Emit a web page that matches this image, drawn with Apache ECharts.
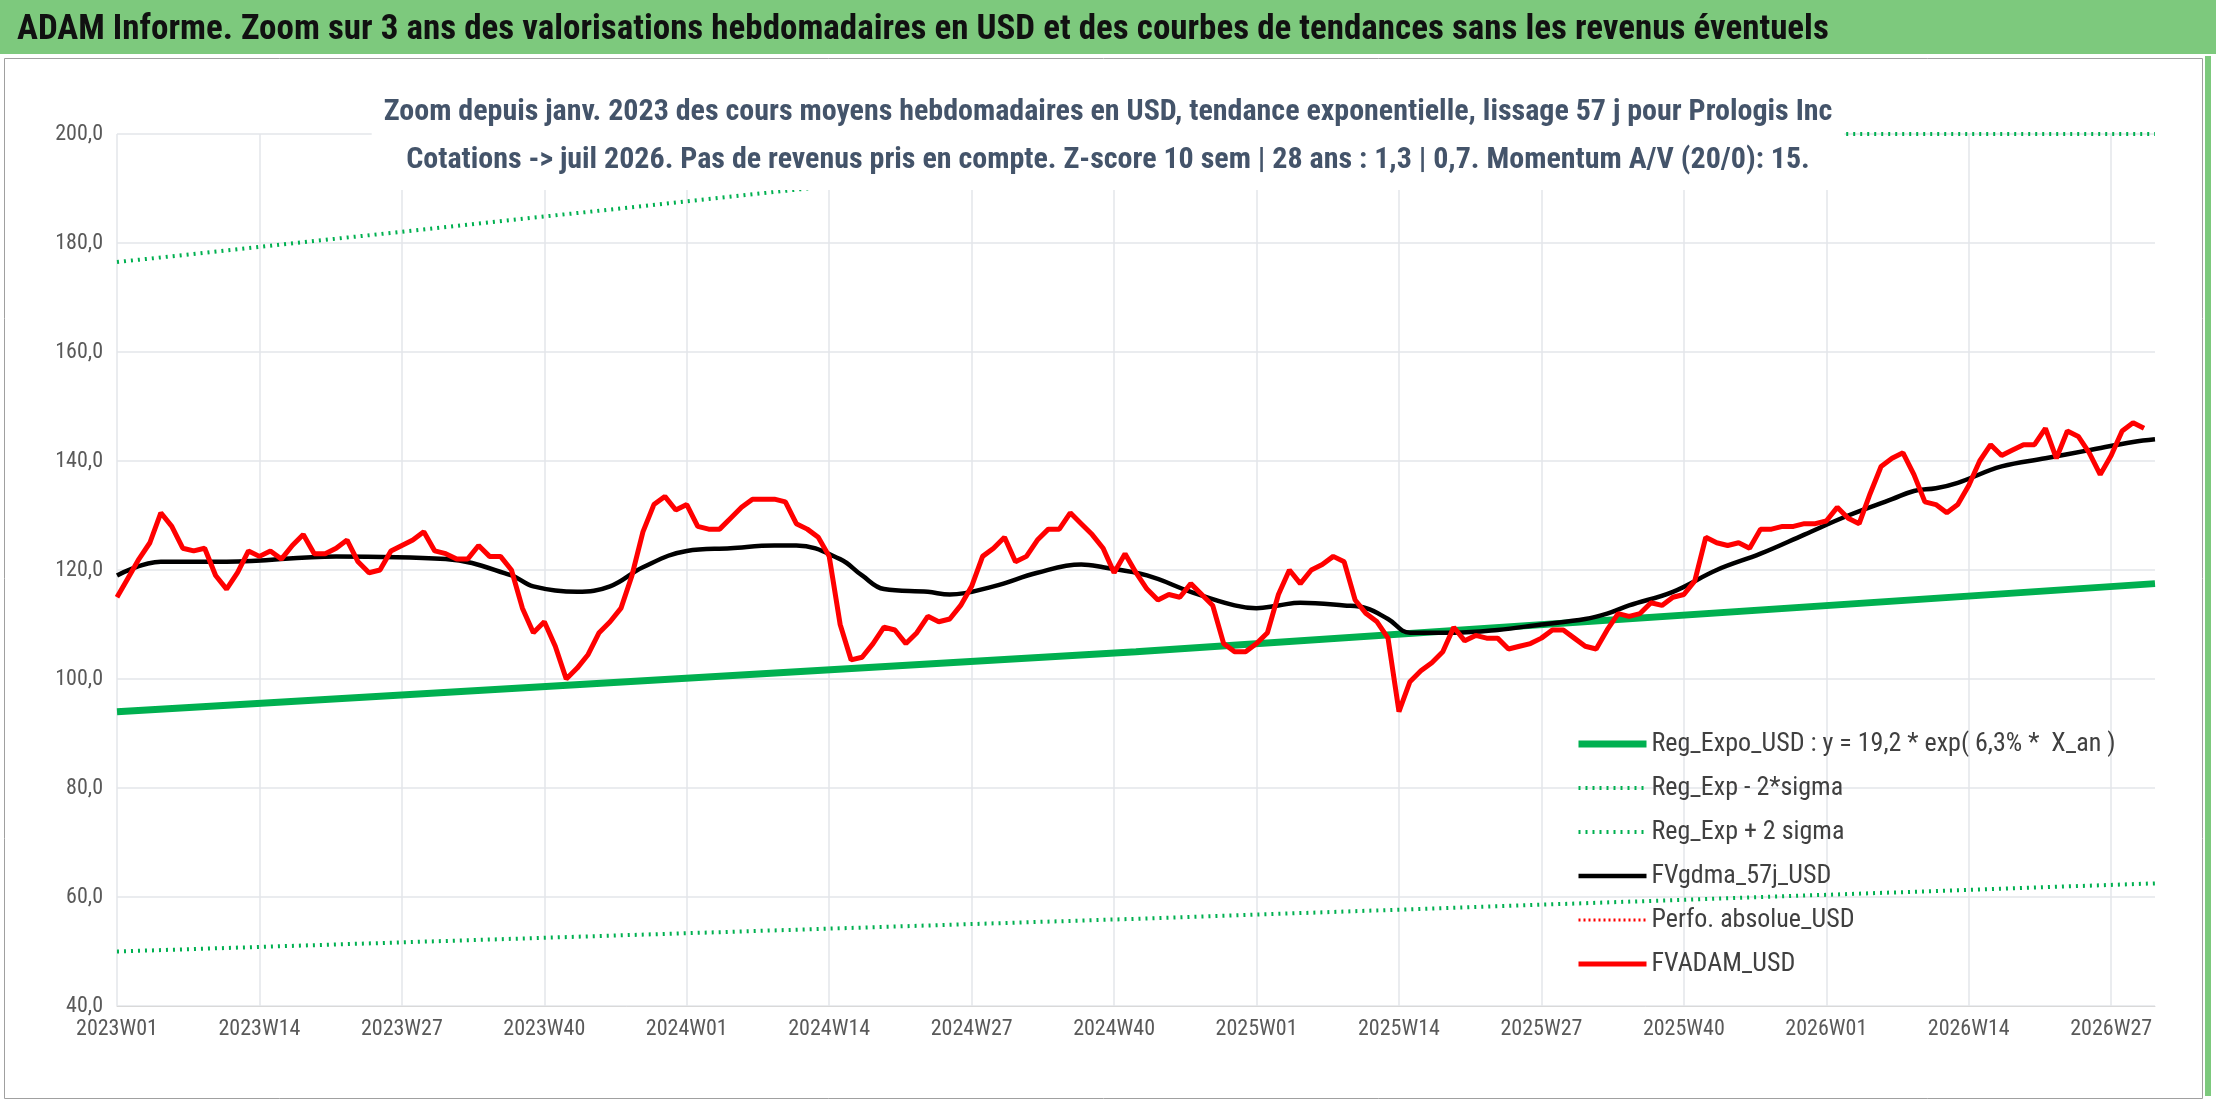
<!DOCTYPE html>
<html><head><meta charset="utf-8">
<script src="https://cdn.jsdelivr.net/npm/echarts@6/dist/echarts.min.js"></script>
<style>html,body{margin:0;padding:0;background:#fff}#c{width:2216px;height:1102px}</style>
</head><body><div id="c"></div>
<script>
const years = [2023, 2024, 2025, 2026];
const weeksPerYear = [52, 52, 52, 31];
const categories = [];
years.forEach((y, k) => { for (let w = 1; w <= weeksPerYear[k]; w++) categories.push(y + 'W' + String(w).padStart(2, '0')); });

const fvadam = [115,118.5,122,125,130.5,128,124,123.5,124,119,116.5,119.5,123.5,122.5,123.5,122,124.5,126.5,123,123,124,125.5,121.5,119.5,120,123.5,124.5,125.5,127,123.5,123,122,122,124.5,122.5,122.5,120,113,108.5,110.5,106,100,102,104.5,108.5,110.5,113,119,127,132,133.5,131,132,128,127.5,127.5,129.5,131.5,133,133,133,132.5,128.5,127.5,126,122.5,110,103.5,104,106.5,109.5,109,106.5,108.5,111.5,110.5,111,113.5,117,122.5,124,126,121.5,122.5,125.5,127.5,127.5,130.5,128.5,126.5,124,119.5,123,119.5,116.5,114.5,115.5,115,117.5,115.5,113.5,106.5,105,105,106.5,108.5,115.5,120,117.5,120,121,122.5,121.5,114.5,112,110.5,107.5,94,99.5,101.5,103,105,109.5,107,108,107.5,107.5,105.5,106,106.5,107.5,109,109,107.5,106,105.5,109,112,111.5,112,114,113.5,115,115.5,118,126,125,124.5,125,124,127.5,127.5,128,128,128.5,128.5,129,131.5,129.5,128.5,134,139,140.5,141.5,137.5,132.5,132,130.5,132,135.5,140,143,141,142,143,143,146,140.5,145.5,144.5,141.5,137.5,141,145.5,147,146];
const fvgdma = [[0,119],[4,121.5],[10,121.5],[20,122.5],[30,122],[36,119],[38,117],[42,116],[45,117],[48,120.5],[52,123.5],[56,124],[60,124.5],[62,124.5],[66,122],[68,119],[70,116.5],[74,116],[76,115.5],[80,117],[84,119.5],[88,121],[90,120.5],[94,119],[98,116],[102,113.5],[104,113],[106,113.5],[108,114],[112,113.5],[114,113],[116,111],[118,108.5],[122,108.5],[126,109],[130,110],[134,111],[136,112],[138,113.5],[142,116],[146,120],[150,123],[154,126.5],[158,130],[162,133],[164,134.5],[166,135],[168,136],[172,139],[176,140.5],[180,142],[184,143.5],[186,144]];
const regExpo = [[0,94],[93,105],[186,117.5]];
const regMinus = [[0,50],[93,56],[186,62.5]];
const regPlus = [[0,176.5],[70,191.5],[110,200],[186,200]];

const chart = echarts.init(document.getElementById('c'));
const F = 'Liberation Sans Narrow, Roboto Condensed, Arial Narrow, Noto Sans, sans-serif';
chart.setOption({
  animation: false,
  backgroundColor: '#fff',
  graphic: [
    {type:'rect', left:0, top:0, shape:{width:2216, height:54}, style:{fill:'#7dc97d'}, z:-1},
    {type:'rect', left:2, top:56, shape:{width:2198, height:1040}, style:{fill:'none', stroke:'#a0a0a0', lineWidth:1}, z:-1},
    {type:'rect', left:2205, top:56, shape:{width:6, height:1040}, style:{fill:'#7dc97d'}, z:-1}
  ],
  title: [
    {text:'ADAM Informe. Zoom sur 3 ans des valorisations hebdomadaires en USD et des courbes de tendances sans les revenus éventuels', left:12, top:8, textStyle:{fontFamily:F, fontSize:35, fontWeight:'bold', color:'#111'}},
    {text:'Zoom depuis janv. 2023 des cours moyens hebdomadaires en USD, tendance exponentielle, lissage 57 j pour Prologis Inc\nCotations -> juil 2026. Pas de revenus pris en compte. Z-score 10 sem | 28 ans : 1,3 | 0,7. Momentum A/V (20/0): 15.', left:'center', top:86, backgroundColor:'#fff', padding:[2,12,6,12], textStyle:{fontFamily:F, fontSize:30, fontWeight:'bold', color:'#44546a', lineHeight:48}, z:10}
  ],
  grid: {left:117, right:61, top:134, bottom:96},
  legend: {
    orient:'vertical', left:1570, top:726, itemGap:18, itemWidth:68, itemHeight:14,
    itemStyle:{opacity:0},
    textStyle:{fontFamily:F, fontSize:26, color:'#404040'},
    data:[
      {name:'Reg_Expo_USD : y = 19,2 * exp( 6,3% *  X_an )', lineStyle:{width:7}},
      {name:'Reg_Exp - 2*sigma', lineStyle:{width:4}},
      {name:'Reg_Exp + 2 sigma', lineStyle:{width:4}},
      {name:'FVgdma_57j_USD', lineStyle:{width:4.5}},
      {name:'Perfo. absolue_USD', lineStyle:{width:3}},
      {name:'FVADAM_USD', lineStyle:{width:5}}
    ]
  },
  xAxis: {
    type:'category', data:categories, boundaryGap:false,
    axisLine:{lineStyle:{color:'#d9d9d9'}}, axisTick:{show:false},
    axisLabel:{interval:12, fontFamily:F, fontSize:22, color:'#595959', margin:12},
    splitLine:{show:true, interval:12, lineStyle:{color:'#e3e6ea', width:1.5}}
  },
  yAxis: {
    type:'value', min:40, max:200, interval:20,
    axisLabel:{formatter:v=>v.toFixed(1).replace('.',','), fontFamily:F, fontSize:22, color:'#595959', margin:14},
    axisLine:{show:false}, axisTick:{show:false},
    splitLine:{lineStyle:{color:'#e3e6ea', width:1.5}}
  },
  series: [
    {name:'Reg_Expo_USD : y = 19,2 * exp( 6,3% *  X_an )', type:'line', data:regExpo, symbol:'none', lineStyle:{color:'#00b050', width:7}, itemStyle:{color:'#00b050'}, z:2},
    {name:'Reg_Exp - 2*sigma', type:'line', data:regMinus, symbol:'none', lineStyle:{color:'#00b050', width:4, type:[2,5]}, itemStyle:{color:'#00b050'}},
    {name:'Reg_Exp + 2 sigma', type:'line', data:regPlus, symbol:'none', lineStyle:{color:'#00b050', width:4, type:[2,5]}, itemStyle:{color:'#00b050'}},
    {name:'FVgdma_57j_USD', type:'line', data:fvgdma, smooth:0.4, symbol:'none', lineStyle:{color:'#000', width:4.5}, itemStyle:{color:'#000'}, z:3},
    {name:'Perfo. absolue_USD', type:'line', data:[], symbol:'none', lineStyle:{color:'#ff0000', width:3, type:[2,3]}, itemStyle:{color:'#ff0000'}},
    {name:'FVADAM_USD', type:'line', data:fvadam, symbol:'none', lineStyle:{color:'#ff0000', width:5}, itemStyle:{color:'#ff0000'}, z:4}
  ]
});
</script></body></html>
